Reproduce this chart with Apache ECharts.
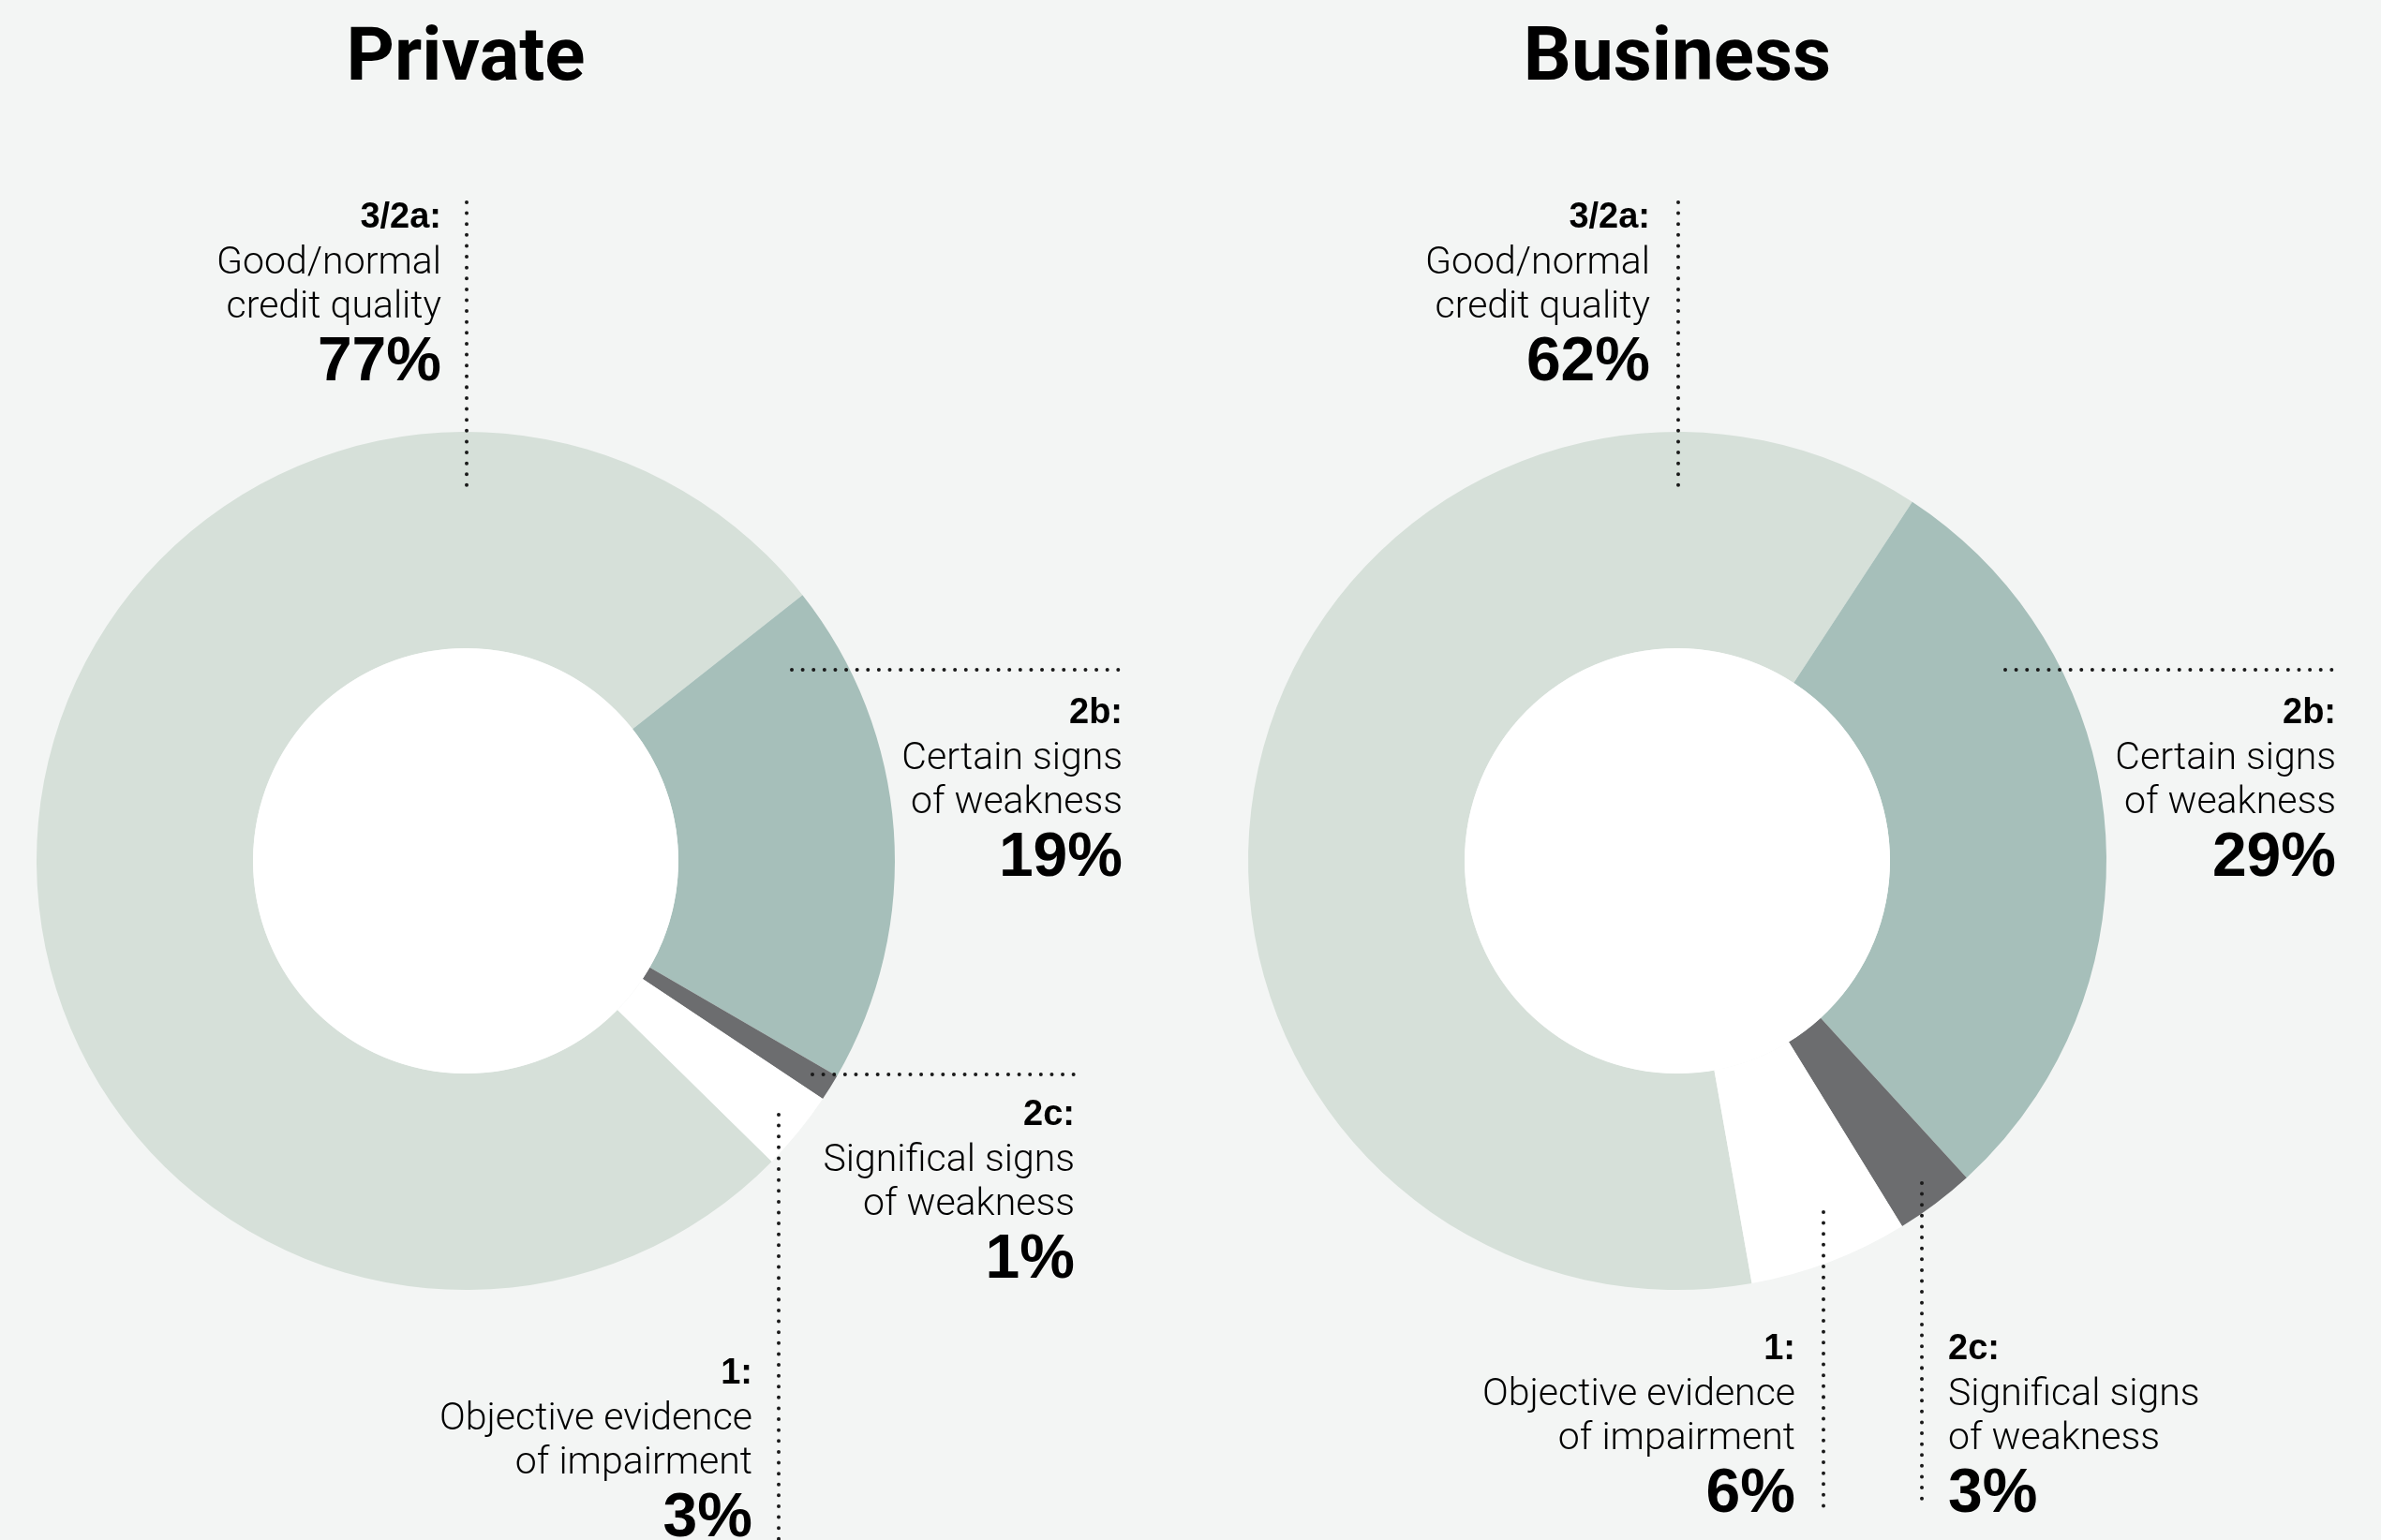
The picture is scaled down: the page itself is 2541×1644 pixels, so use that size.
<!DOCTYPE html>
<html lang="en">
<head>
  <meta charset="utf-8">
  <title>Credit quality</title>
  <script src="https://cdn.jsdelivr.net/npm/echarts@6/dist/echarts.min.js" charset="utf-8"></script>
  <style>
    html, body { margin: 0; padding: 0; background: #f3f5f4; }
    #container { width: 2541px; height: 1644px; }
  </style>
</head>
<body>
<div id="container"></div>
<script>
  // data
  var categories = ['3/2a', '2b', '2c', '1'];
  var descriptions = [
    ['Good/normal', 'credit quality'],
    ['Certain signs', 'of weakness'],
    ['Significal signs', 'of weakness'],
    ['Objective evidence', 'of impairment']
  ];
  var privateValues = [77, 19, 1, 3];
  var businessValues = [62, 29, 3, 6];
  var chartTitles = ['Private', 'Business'];

  // styles
  var sliceColors = ['#d6e0d9', '#a6bfba', '#6c6d6f', '#ffffff'];
  var bodyFont = 'Roboto, "Open Sans", sans-serif';
  var boldFont = '"Liberation Sans", Arial, sans-serif';

  // layout: pie centres, radius, and where each label (and its dotted leader) sits relative to the centre
  var centers = [[497, 919], [1790, 919]];
  var radius = [227, 458];
  var labelPlaces = [
    [ // private
      { dx: -26, dy: -712, align: 'right', line: [[1, -703], [1, -390]] },
      { dx: 701, dy: -183, align: 'right', line: [[348, -204], [701, -204]] },
      { dx: 650, dy: 246, align: 'right', line: [[370, 228], [650, 228]] },
      { dx: 306, dy: 522, align: 'right', line: [[334, 271], [334, 735]] }
    ],
    [ // business
      { dx: -29, dy: -712, align: 'right', line: [[1, -703], [1, -390]] },
      { dx: 703, dy: -183, align: 'right', line: [[350, -204], [703, -204]] },
      { dx: 289, dy: 496, align: 'left', line: [[261, 344], [261, 691]] },
      { dx: 126, dy: 496, align: 'right', line: [[156, 375], [156, 691]] }
    ]
  ];
  var startAngles = [-44.5, -80];

  var dom = document.getElementById('container');
  var myChart = echarts.init(dom);

  function labelText(p) {
    var i = p.dataIndex;
    return '{h|' + categories[i] + ':}\n' +
      '{t|' + descriptions[i][0] + '}\n' +
      '{t|' + descriptions[i][1] + '}\n' +
      '{p|' + p.value + '%}';
  }

  function makeLayout(k) {
    return function (params) {
      var c = centers[k];
      var pl = labelPlaces[k][params.dataIndex];
      return {
        x: c[0] + pl.dx,
        y: c[1] + pl.dy,
        align: pl.align,
        verticalAlign: 'top'
      };
    };
  }

  function donut(k, values) {
    return {
      type: 'pie',
      center: centers[k],
      radius: radius,
      startAngle: startAngles[k],
      clockwise: true,
      avoidLabelOverlap: false,
      silent: true,
      animation: false,
      emphasis: { disabled: true },
      itemStyle: { borderWidth: 0 },
      label: {
        show: true,
        position: 'outside',
        overflow: 'none',
        formatter: labelText,
        rich: {
          h: { fontFamily: boldFont, fontWeight: 'bold', fontSize: 38, lineHeight: 51, color: '#000' },
          t: { fontFamily: bodyFont, fontWeight: 300, fontSize: 41, lineHeight: 47, color: '#000' },
          p: { fontFamily: boldFont, fontWeight: 'bold', fontSize: 66, lineHeight: 72, color: '#000' }
        }
      },
      labelLine: { show: false },
      labelLayout: makeLayout(k),
      data: values.map(function (v, i) {
        return { name: categories[i], value: v, itemStyle: { color: sliceColors[i] } };
      })
    };
  }

  function hole(k) {
    return {
      type: 'pie',
      center: centers[k],
      radius: [0, radius[0]],
      silent: true,
      animation: false,
      label: { show: false },
      labelLine: { show: false },
      emphasis: { disabled: true },
      itemStyle: { color: '#ffffff' },
      data: [{ value: 1 }]
    };
  }

  // dotted leader lines, drawn over the rings
  var leaders = [];
  labelPlaces.forEach(function (places, k) {
    var c = centers[k];
    places.forEach(function (pl) {
      leaders.push({
        type: 'line',
        z: 100,
        silent: true,
        shape: {
          x1: c[0] + pl.line[0][0], y1: c[1] + pl.line[0][1],
          x2: c[0] + pl.line[1][0], y2: c[1] + pl.line[1][1]
        },
        style: { stroke: '#1a1a1a', lineWidth: 4, lineDash: [0.01, 11.6], lineCap: 'round' }
      });
    });
  });

  var option = {
    backgroundColor: '#f3f5f4',
    title: chartTitles.map(function (t, k) {
      return {
        text: t,
        left: centers[k][0],
        top: 25,
        padding: 0,
        textAlign: 'center',
        textStyle: { fontFamily: 'Roboto, sans-serif', fontWeight: 'bold', fontSize: 80, color: '#000' }
      };
    }),
    graphic: leaders,
    series: [
      donut(0, privateValues), hole(0),
      donut(1, businessValues), hole(1)
    ]
  };

  myChart.setOption(option);
</script>
</body>
</html>
